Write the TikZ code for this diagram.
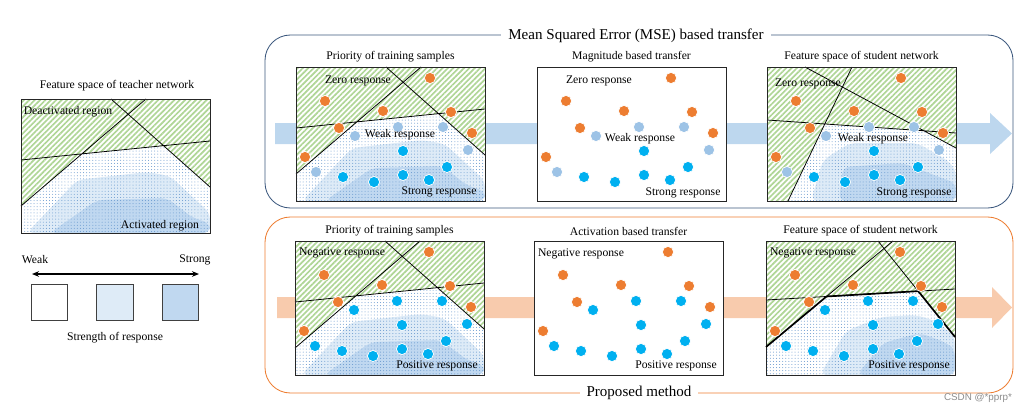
\documentclass[tikz,border=0pt]{standalone}
\usepackage{fontspec}
\setmainfont{Liberation Serif}
\setsansfont{Liberation Sans}
\usetikzlibrary{arrows.meta,patterns.meta}

\definecolor{hatchgreen}{RGB}{175,214,150}
\definecolor{dotblue}{RGB}{100,150,205}
\definecolor{shadelight}{RGB}{222,235,247}
\definecolor{shadedark}{RGB}{192,216,240}
\definecolor{zeroorange}{RGB}{237,125,49}
\definecolor{weakblue}{RGB}{157,195,230}
\definecolor{strongblue}{RGB}{0,176,240}
\definecolor{mseband}{RGB}{189,215,238}
\definecolor{propband}{RGB}{248,203,173}
\definecolor{mseframe}{RGB}{59,87,125}

\tikzset{
  panelbox/.style={draw=black!85, line width=0.7pt},
  hatched/.style={pattern={Lines[angle=45,distance=2.7pt,line width=1.2pt]}, pattern color=hatchgreen},
  actdots/.style={pattern={Dots[distance=2.2pt,radius=0.35pt]}, pattern color=dotblue},
  sepline/.style={line width=0.55pt},
  boundline/.style={line width=1.2pt},
  respdot/.style={draw=white, line width=0.5pt},
  ptitle/.style={font=\fontsize{8.3}{10}\selectfont},
  plabel/.style={font=\fontsize{8.3}{10}\selectfont},
  bigtitle/.style={font=\fontsize{10.7}{13}\selectfont, fill=white, inner xsep=5pt},
  msebox/.style={draw=mseframe, line width=0.6pt, rounded corners=18pt},
  propbox/.style={draw=zeroorange, line width=0.6pt, rounded corners=18pt},
  legsq/.style={draw=black!75, line width=0.7pt, minimum size=26pt, inner sep=0pt},
}

% activated (dotted) part of a feature space
\newcommand{\actborder}{(l2b) -- (intersection of l2a--l2b and l3a--l3b) -- (intersection of l3a--l3b and l1a--l1b) -- (l1b)}
\newcommand{\actregion}{\actborder -- (189,134) -- (0,134) -- cycle}

\newcommand{\teacherlines}{%
  \coordinate (l1a) at (90,0); \coordinate (l1b) at (189,88);
  \coordinate (l2a) at (125,0); \coordinate (l2b) at (0,107);
  \coordinate (l3a) at (0,61); \coordinate (l3b) at (189,42);
}

% #1 light shading, #2 dark shading
\newcommand{\featspace}[2]{%
  \fill[white] (0,0) rectangle (189,134);
  \fill[hatched] (0,0) rectangle (189,134);
  \fill[white] \actregion;
  \begin{scope}
    \clip \actregion;
    \fill[shadelight, rounded corners=5pt] #1 -- cycle;
    \fill[shadedark, rounded corners=5pt] #2 -- cycle;
  \end{scope}
  \fill[actdots] \actregion;
  \draw[sepline] (l1a) -- (l1b) (l2a) -- (l2b) (l3a) -- (l3b);
  \draw[panelbox] (0,0) rectangle (189,134);
}

\newcommand{\emptyspace}{%
  \fill[white] (0,0) rectangle (189,134);
  \draw[panelbox] (0,0) rectangle (189,134);
}

% #1 colour of the weak response samples
\newcommand{\respdots}[1]{%
  \foreach \px/\py in {134/11,29/34,87/44,155/45,43/61,176/66,9/90}
    {\filldraw[respdot, fill=zeroorange] (\px,\py) circle (5.6);}
  \foreach \px/\py in {59/69,102/60,147/60,172/83,20/105}
    {\filldraw[respdot, fill=#1] (\px,\py) circle (5.6);}
  \foreach \px/\py in {107/84,151/100,47/110,107/108,78/115,133/113}
    {\filldraw[respdot, fill=strongblue] (\px,\py) circle (5.6);}
}

\begin{document}
\begin{tikzpicture}[x=0.025cm, y=-0.025cm]
\useasboundingbox (0,0) rectangle (1026,414);
% Teacher
\node[ptitle] (teachtitle) at (117,86) {Feature space of teacher network};
\begin{scope}[shift={(21,99)}]
  \teacherlines
  \featspace{(6,134) -- (56,81) -- (126,73) -- (149,77) -- (189,114) -- (189,134)}{(29,134) -- (76,101) -- (146,99) -- (172,119) -- (189,124) -- (189,134)}
  \node[plabel] (deact) at (47,13) {Deactivated region};
  \node[plabel] (act) at (139,127) {Activated region};
\end{scope}
% Legend
\node[plabel] (weak) at (35,260) {Weak};
\node[plabel] (strong) at (195,260) {Strong};
\coordinate (arrL) at (32,274);
\coordinate (arrR) at (199,274);
\draw[{Stealth[length=5pt,width=4pt]}-{Stealth[length=5pt,width=4pt]}, line width=0.9pt] (arrL) -- (arrR);
\node[legsq, fill=white] (sqweak) at (49.5,302.5) {};
\node[legsq, fill=shadelight] (sqmid) at (115,302.5) {};
\node[legsq, fill=shadedark] (sqstrong) at (180.5,302.5) {};
\node[plabel] (strength) at (115,338) {Strength of response};

% MSE based transfer
\draw[msebox] (265,35) rectangle (1013,208);
\fill[mseband] (275,123) -- (990,123) -- (990,113) -- (1012,133.5) -- (990,154) -- (990,144) -- (275,144) -- cycle;
\node[ptitle] (titA) at (390.5,57) {Priority of training samples};
\begin{scope}[shift={(296,67)}]
  \teacherlines
  \featspace{(6,134) -- (56,81) -- (126,73) -- (149,77) -- (189,114) -- (189,134)}{(29,134) -- (76,101) -- (146,99) -- (172,119) -- (189,124) -- (189,134)}
  \respdots{weakblue}
  \node[plabel] (zeroA) at (62,14) {Zero response};
  \node[plabel] (weakA) at (104,68) {Weak response};
  \node[plabel] (strongA) at (143,125) {Strong response};
\end{scope}
\node[ptitle] (titB) at (631.5,57) {Magnitude based transfer};
\begin{scope}[shift={(537,67)}]
  \emptyspace
  \respdots{weakblue}
  \node[plabel] (zeroB) at (62,14) {Zero response};
  \node[plabel] (weakB) at (103,72) {Weak response};
  \node[plabel] (strongB) at (146,126) {Strong response};
\end{scope}
\node[ptitle] (titC) at (861.5,57) {Feature space of student network};
\begin{scope}[shift={(767,67)}]
  \coordinate (l1a) at (38,0); \coordinate (l1b) at (189,81);
  \coordinate (l2a) at (85,0); \coordinate (l2b) at (21,134);
  \coordinate (l3a) at (0,53); \coordinate (l3b) at (189,66);
  \featspace{(44,134) -- (56,93) -- (83,76) -- (150,76) -- (180,93) -- (189,103) -- (189,134)}{(72,134) -- (76,100) -- (136,96) -- (180,113) -- (189,116) -- (189,134)}
  \respdots{weakblue}
  \node[plabel] (zeroC) at (41,17) {Zero response};
  \node[plabel] (weakC) at (106,72) {Weak response};
  \node[plabel] (strongC) at (147,126) {Strong response};
\end{scope}
\node[bigtitle] (msetitle) at (636,36) {Mean Squared Error (MSE) based transfer};

% Proposed method
\draw[propbox] (265,217) rectangle (1013,393);
\fill[propband] (277,297) -- (992,297) -- (992,287) -- (1012,307.5) -- (992,328) -- (992,318) -- (277,318) -- cycle;
\node[ptitle] (titD) at (389.5,231) {Priority of training samples};
\begin{scope}[shift={(295,241)}]
  \teacherlines
  \featspace{(6,134) -- (56,81) -- (126,73) -- (149,77) -- (189,114) -- (189,134)}{(29,134) -- (76,101) -- (146,99) -- (172,119) -- (189,124) -- (189,134)}
  \respdots{strongblue}
  \node[plabel] (negD) at (47,12) {Negative response};
  \node[plabel] (posD) at (142,125) {Positive response};
\end{scope}
\node[ptitle] (titE) at (628.5,231) {Activation based transfer};
\begin{scope}[shift={(534,241)}]
  \emptyspace
  \respdots{strongblue}
  \node[plabel] (negE) at (47,13) {Negative response};
  \node[plabel] (posE) at (142,125) {Positive response};
\end{scope}
\node[ptitle] (titF) at (860.5,231) {Feature space of student network};
\begin{scope}[shift={(766,241)}]
  \coordinate (l1a) at (112,0); \coordinate (l1b) at (189,96);
  \coordinate (l2a) at (127,0); \coordinate (l2b) at (0,106);
  \coordinate (l3a) at (0,59); \coordinate (l3b) at (189,48);
  \featspace{(54,134) -- (80,90) -- (115,76) -- (150,74) -- (170,80) -- (189,96) -- (189,134)}{(91,134) -- (117,102) -- (154,92) -- (181,102) -- (189,109) -- (189,134)}
  \draw[boundline] \actborder;
  \respdots{strongblue}
  \node[plabel] (negF) at (47,12) {Negative response};
  \node[plabel] (posF) at (143,125) {Positive response};
\end{scope}
\node[bigtitle] (proptitle) at (639,393) {Proposed method};

\node[font=\sffamily\fontsize{7}{8}\selectfont, text=black!45] (csdn) at (978,398) {CSDN @*pprp*};
\end{tikzpicture}
\end{document}
